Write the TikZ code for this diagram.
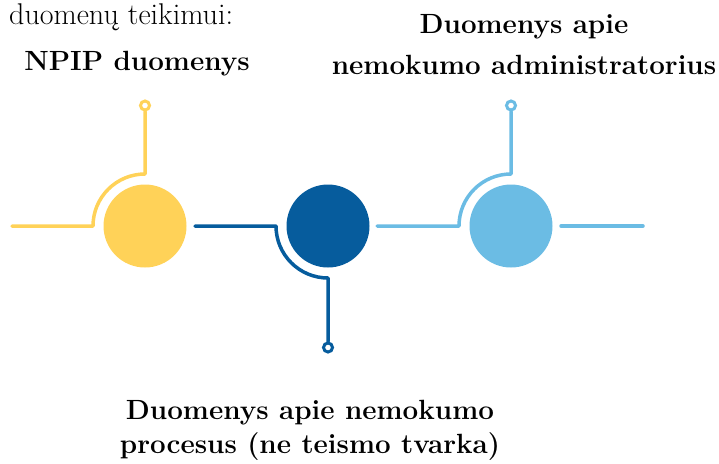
\documentclass[tikz,border=0pt]{standalone}
\usepackage{fontspec}
\usetikzlibrary{positioning}

\definecolor{npipyellow}{RGB}{255,210,88}
\definecolor{procblue}{RGB}{6,92,157}
\definecolor{adminblue}{RGB}{107,188,228}

\tikzset{
    dot/.style={circle, fill=#1, minimum size=83pt, inner sep=0pt},
    ring/.style={circle, draw=#1, fill=white, line width=3pt, minimum size=9pt, inner sep=0pt},
    wire/.style={draw=#1, line width=3.5pt, line cap=round, line join=round},
    heading/.style={inner sep=0pt, align=center, font=\bfseries\fontsize{27.8}{#1}\selectfont}
}

\begin{document}
\begin{tikzpicture}[
                            x=1pt, y=-1pt,
                            node distance=183pt
                        ]
                        \useasboundingbox (0,0) rectangle (719,463);

                        % Blocks
                        \node [dot=npipyellow] (npip) at (145,226) {};
                        \node [dot=procblue, right of=npip] (proc) {};
                        \node [dot=adminblue, right of=proc] (admin) {};

                        \node [ring=npipyellow] (npippin) at (145,105.5) {};
                        \node [ring=procblue] (procpin) at (328,347.5) {};
                        \node [ring=adminblue] (adminpin) at (511,105.5) {};

                        \coordinate (npipin) at (12,226);
                        \coordinate (npipbend) at (93,226);
                        \coordinate (procin) at (195,226);
                        \coordinate (procbend) at (276,226);
                        \coordinate (adminin) at (377,226);
                        \coordinate (adminbend) at (459,226);
                        \coordinate (adminout) at (643,226);

                        % Connections
                        \draw [wire=npipyellow] (npipin) -- (npipbend) arc[start angle=180, end angle=90, radius=52pt] -- (npippin);
                        \draw [wire=procblue] (procin) -- (procbend) arc[start angle=180, end angle=270, radius=52pt] -- (procpin);
                        \draw [wire=adminblue] (adminin) -- (adminbend) arc[start angle=180, end angle=90, radius=52pt] -- (adminpin);
                        \draw [wire=adminblue] (adminout) -- ++(-82,0);

                        % Texts
                        \node [anchor=base west, inner sep=0pt, font=\fontsize{30}{36}\selectfont] (intro) at (9,24) {duomenų teikimui:};
                        \node [heading=34, anchor=base] (npiptitle) at (137,70) {NPIP duomenys};
                        \node [heading=41, anchor=base] (admintitle) at (524,74) {Duomenys apie\\nemokumo administratorius};
                        \node [heading=34, anchor=base] (proctitle) at (310,453) {Duomenys apie nemokumo\\procesus (ne teismo tvarka)};
                    \end{tikzpicture}
\end{document}
